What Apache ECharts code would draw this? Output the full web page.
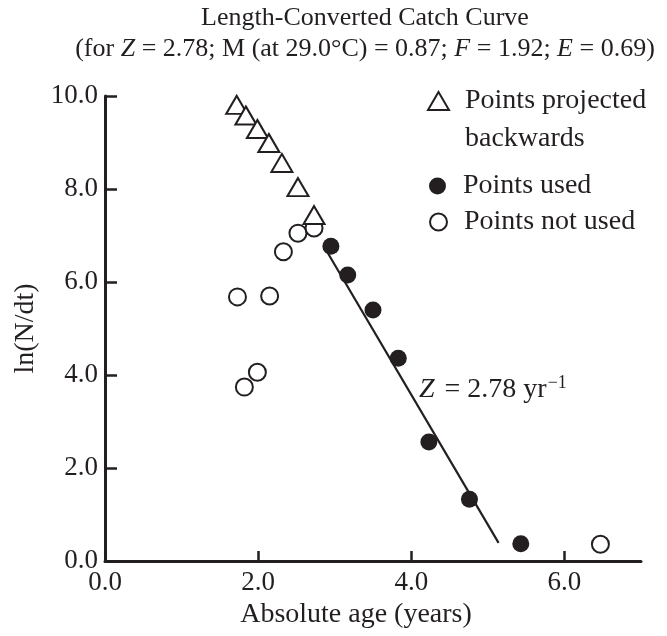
<!DOCTYPE html>
<html>
<head>
<meta charset="utf-8">
<script src="https://cdn.jsdelivr.net/npm/echarts@6/dist/echarts.min.js"></script>
<style>html,body{margin:0;padding:0;background:#fff}#c{width:667px;height:636px}</style>
</head>
<body>
<div id="c"></div>
<script>
// ---- data ----
const projectedBackwards = [[1.72,9.81],[1.84,9.58],[1.99,9.29],[2.14,8.99],[2.31,8.56],[2.52,8.04],[2.73,7.44]];
const pointsUsed = [[2.95,6.77],[3.17,6.15],[3.50,5.40],[3.83,4.36],[4.23,2.56],[4.76,1.33],[5.43,0.37]];
const pointsNotUsed = [[1.73,5.68],[2.15,5.70],[2.33,6.65],[2.52,7.05],[2.73,7.16],[1.99,4.06],[1.82,3.74],[6.47,0.36]];
const fitLine = [[2.90,6.65],[5.14,0.39]];
const zLabelPos = [[4.10,3.68]];
const xTicks = [0,2,4,6];
const yTicks = [0,2,4,6,8,10];

const INK = '#231f20';
const FONT = "'Liberation Serif','Times New Roman',serif";

const chart = echarts.init(document.getElementById('c'));
const legendText = {fontFamily: FONT, fontSize: 28, color: INK, lineHeight: 38};
chart.setOption({
  animation: false,
  backgroundColor: '#fff',
  title: {
    left: 360, top: 0, textAlign: 'center', itemGap: 5,
    text: 'Length-Converted Catch Curve',
    textStyle: {fontFamily: FONT, fontSize: 26, fontWeight: 'normal', color: INK},
    subtext: '(for {i|Z} = 2.78; M (at 29.0°C) = 0.87; {i|F} = 1.92; {i|E} = 0.69)',
    subtextStyle: {fontFamily: FONT, fontSize: 26, color: INK,
      rich: {i: {fontFamily: FONT, fontSize: 26, fontStyle: 'italic', color: INK}}}
  },
  grid: {left: 105, top: 96, right: 26, bottom: 75, containLabel: false, outerBoundsMode: 'none'},
  legend: [
    {data: ['Points projected backwards'], left: 427, top: 44, padding: 0, itemWidth: 21, itemHeight: 18,
     formatter: () => '\nPoints projected\nbackwards',
     textStyle: Object.assign({}, legendText, {padding: [0, 0, 0, 11]})},
    {data: ['Points used'], left: 429, top: 167, padding: 0, itemWidth: 17, itemHeight: 17,
     textStyle: Object.assign({}, legendText, {padding: [0, 0, 0, 12]})},
    {data: ['Points not used'], left: 429, top: 203, padding: 0, itemWidth: 17, itemHeight: 17,
     textStyle: Object.assign({}, legendText, {padding: [0, 0, 0, 12]})}
  ],
  xAxis: {
    type: 'value', min: 0, max: 7,
    name: 'Absolute age (years)', nameLocation: 'middle', nameGap: 35,
    nameTextStyle: {fontFamily: FONT, fontSize: 28, color: INK, padding: [0, 34, 0, 0]},
    axisLine: {show: true, onZero: false, lineStyle: {color: INK, width: 3}},
    axisTick: {show: true, inside: true, length: 10, lineStyle: {color: INK, width: 2.5}, customValues: xTicks},
    axisLabel: {customValues: xTicks, formatter: v => v.toFixed(1), margin: 8,
      fontFamily: FONT, fontSize: 27, color: INK},
    splitLine: {show: false}
  },
  yAxis: {
    type: 'value', min: 0, max: 10, interval: 2,
    name: 'ln(N/dt)', nameLocation: 'middle', nameGap: 59,
    nameTextStyle: {fontFamily: FONT, fontSize: 28, color: INK},
    axisLine: {show: true, onZero: false, lineStyle: {color: INK, width: 3}},
    axisTick: {show: true, inside: true, length: 12, lineStyle: {color: INK, width: 2.5}, customValues: yTicks},
    axisLabel: {customValues: yTicks, formatter: v => v.toFixed(1), margin: 7,
      fontFamily: FONT, fontSize: 27, color: INK},
    splitLine: {show: false}
  },
  series: [
    {name: 'Regression line', type: 'line', data: fitLine, symbol: 'none', silent: true,
     lineStyle: {color: INK, width: 2.2}, z: 1},
    {name: 'Points not used', type: 'scatter', data: pointsNotUsed, symbol: 'circle', symbolSize: 17,
     itemStyle: {color: '#fff', borderColor: INK, borderWidth: 2, opacity: 1}, z: 2},
    {name: 'Points projected backwards', type: 'scatter', data: projectedBackwards, symbol: 'triangle', symbolSize: [21, 18],
     itemStyle: {color: '#fff', borderColor: INK, borderWidth: 2, opacity: 1}, z: 3},
    {name: 'Points used', type: 'scatter', data: pointsUsed, symbol: 'circle', symbolSize: 17,
     itemStyle: {color: INK, opacity: 1}, z: 4},
    {name: 'Z label', type: 'scatter', data: zLabelPos, symbolSize: 0, silent: true,
     itemStyle: {opacity: 1},
     label: {show: true, position: 'right', distance: 0, opacity: 1,
       formatter: '{i|Z}{n| = 2.78 yr}{s|−1}',
       rich: {
         i: {fontFamily: FONT, fontSize: 28, fontStyle: 'italic', color: INK, lineHeight: 32, padding: [0, 3, 0, 0]},
         n: {fontFamily: FONT, fontSize: 28, color: INK, lineHeight: 32},
         s: {fontFamily: FONT, fontSize: 18, color: INK, verticalAlign: 'top', lineHeight: 32, padding: [0,0,0,1]}
       }}}
  ]
});
</script>
</body>
</html>
